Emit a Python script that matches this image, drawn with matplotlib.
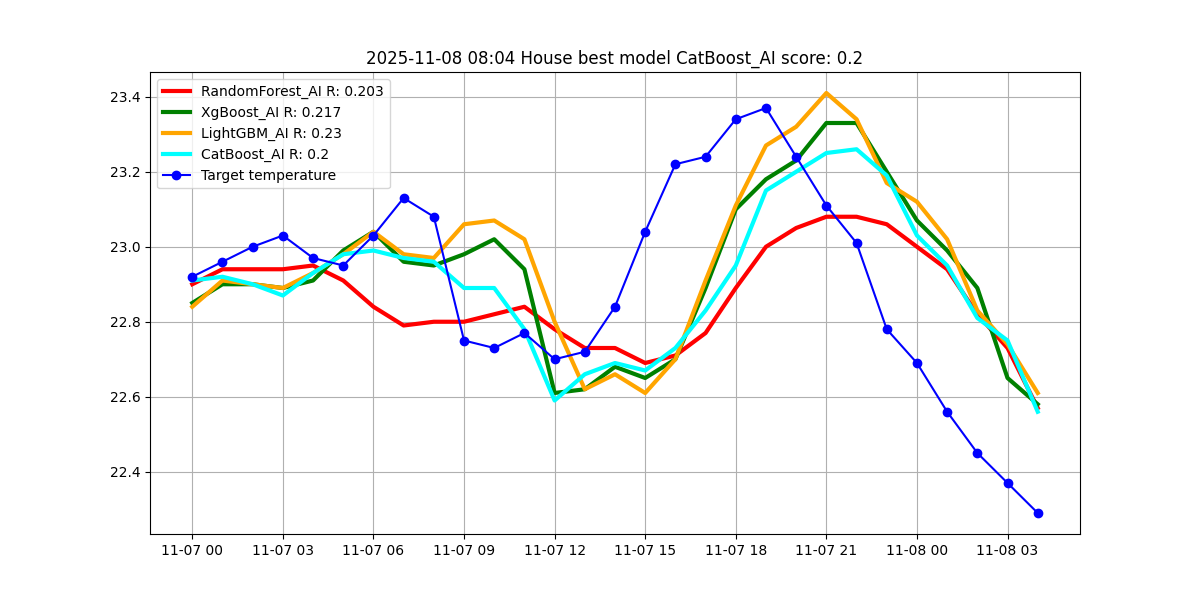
import matplotlib
matplotlib.use("Agg")
import matplotlib.pyplot as plt
import matplotlib.dates as mdates
import pandas as pd

times = pd.date_range("2025-11-07 00:00", periods=29, freq="h")

target = [22.92, 22.96, 23.00, 23.03, 22.97, 22.95, 23.03, 23.13, 23.08, 22.75,
          22.73, 22.77, 22.70, 22.72, 22.84, 23.04, 23.22, 23.24, 23.34, 23.37,
          23.24, 23.11, 23.01, 22.78, 22.69, 22.56, 22.45, 22.37, 22.29]
random_forest = [22.90, 22.94, 22.94, 22.94, 22.95, 22.91, 22.84, 22.79, 22.80, 22.80,
                 22.82, 22.84, 22.78, 22.73, 22.73, 22.69, 22.71, 22.77, 22.89, 23.00,
                 23.05, 23.08, 23.08, 23.06, 23.00, 22.94, 22.82, 22.73, 22.57]
xgboost = [22.85, 22.90, 22.90, 22.89, 22.91, 22.99, 23.04, 22.96, 22.95, 22.98,
           23.02, 22.94, 22.61, 22.62, 22.68, 22.65, 22.70, 22.89, 23.10, 23.18,
           23.23, 23.33, 23.33, 23.20, 23.07, 22.99, 22.89, 22.65, 22.58]
lightgbm = [22.84, 22.91, 22.90, 22.89, 22.93, 22.98, 23.04, 22.98, 22.97, 23.06,
            23.07, 23.02, 22.80, 22.62, 22.66, 22.61, 22.70, 22.91, 23.11, 23.27,
            23.32, 23.41, 23.34, 23.17, 23.12, 23.02, 22.83, 22.74, 22.61]
catboost = [22.91, 22.92, 22.90, 22.87, 22.93, 22.98, 22.99, 22.97, 22.96, 22.89,
            22.89, 22.78, 22.59, 22.66, 22.69, 22.67, 22.73, 22.83, 22.95, 23.15,
            23.20, 23.25, 23.26, 23.19, 23.03, 22.95, 22.81, 22.75, 22.56]

labels = ["RandomForest_AI R: 0.203", "XgBoost_AI R: 0.217",
          "LightGBM_AI R: 0.23", "CatBoost_AI R: 0.2"]
title = "2025-11-08 08:04 House best model CatBoost_AI score: 0.2"

fig, ax = plt.subplots(figsize=(12, 6), dpi=100)
ax.plot(times, random_forest, color="red", lw=3, label=labels[0])
ax.plot(times, xgboost, color="green", lw=3, label=labels[1])
ax.plot(times, lightgbm, color="orange", lw=3, label=labels[2])
ax.plot(times, catboost, color="cyan", lw=3, label=labels[3])
ax.plot(times, target, color="blue", lw=1.5, marker="o", markersize=6,
        label="Target temperature")

ax.xaxis.set_major_locator(mdates.HourLocator(byhour=range(0, 24, 3)))
ax.xaxis.set_major_formatter(mdates.DateFormatter("%m-%d %H"))
ax.grid(True)
ax.legend(loc="upper left")
ax.set_title(title)
fig.savefig("out.png", dpi=100)
